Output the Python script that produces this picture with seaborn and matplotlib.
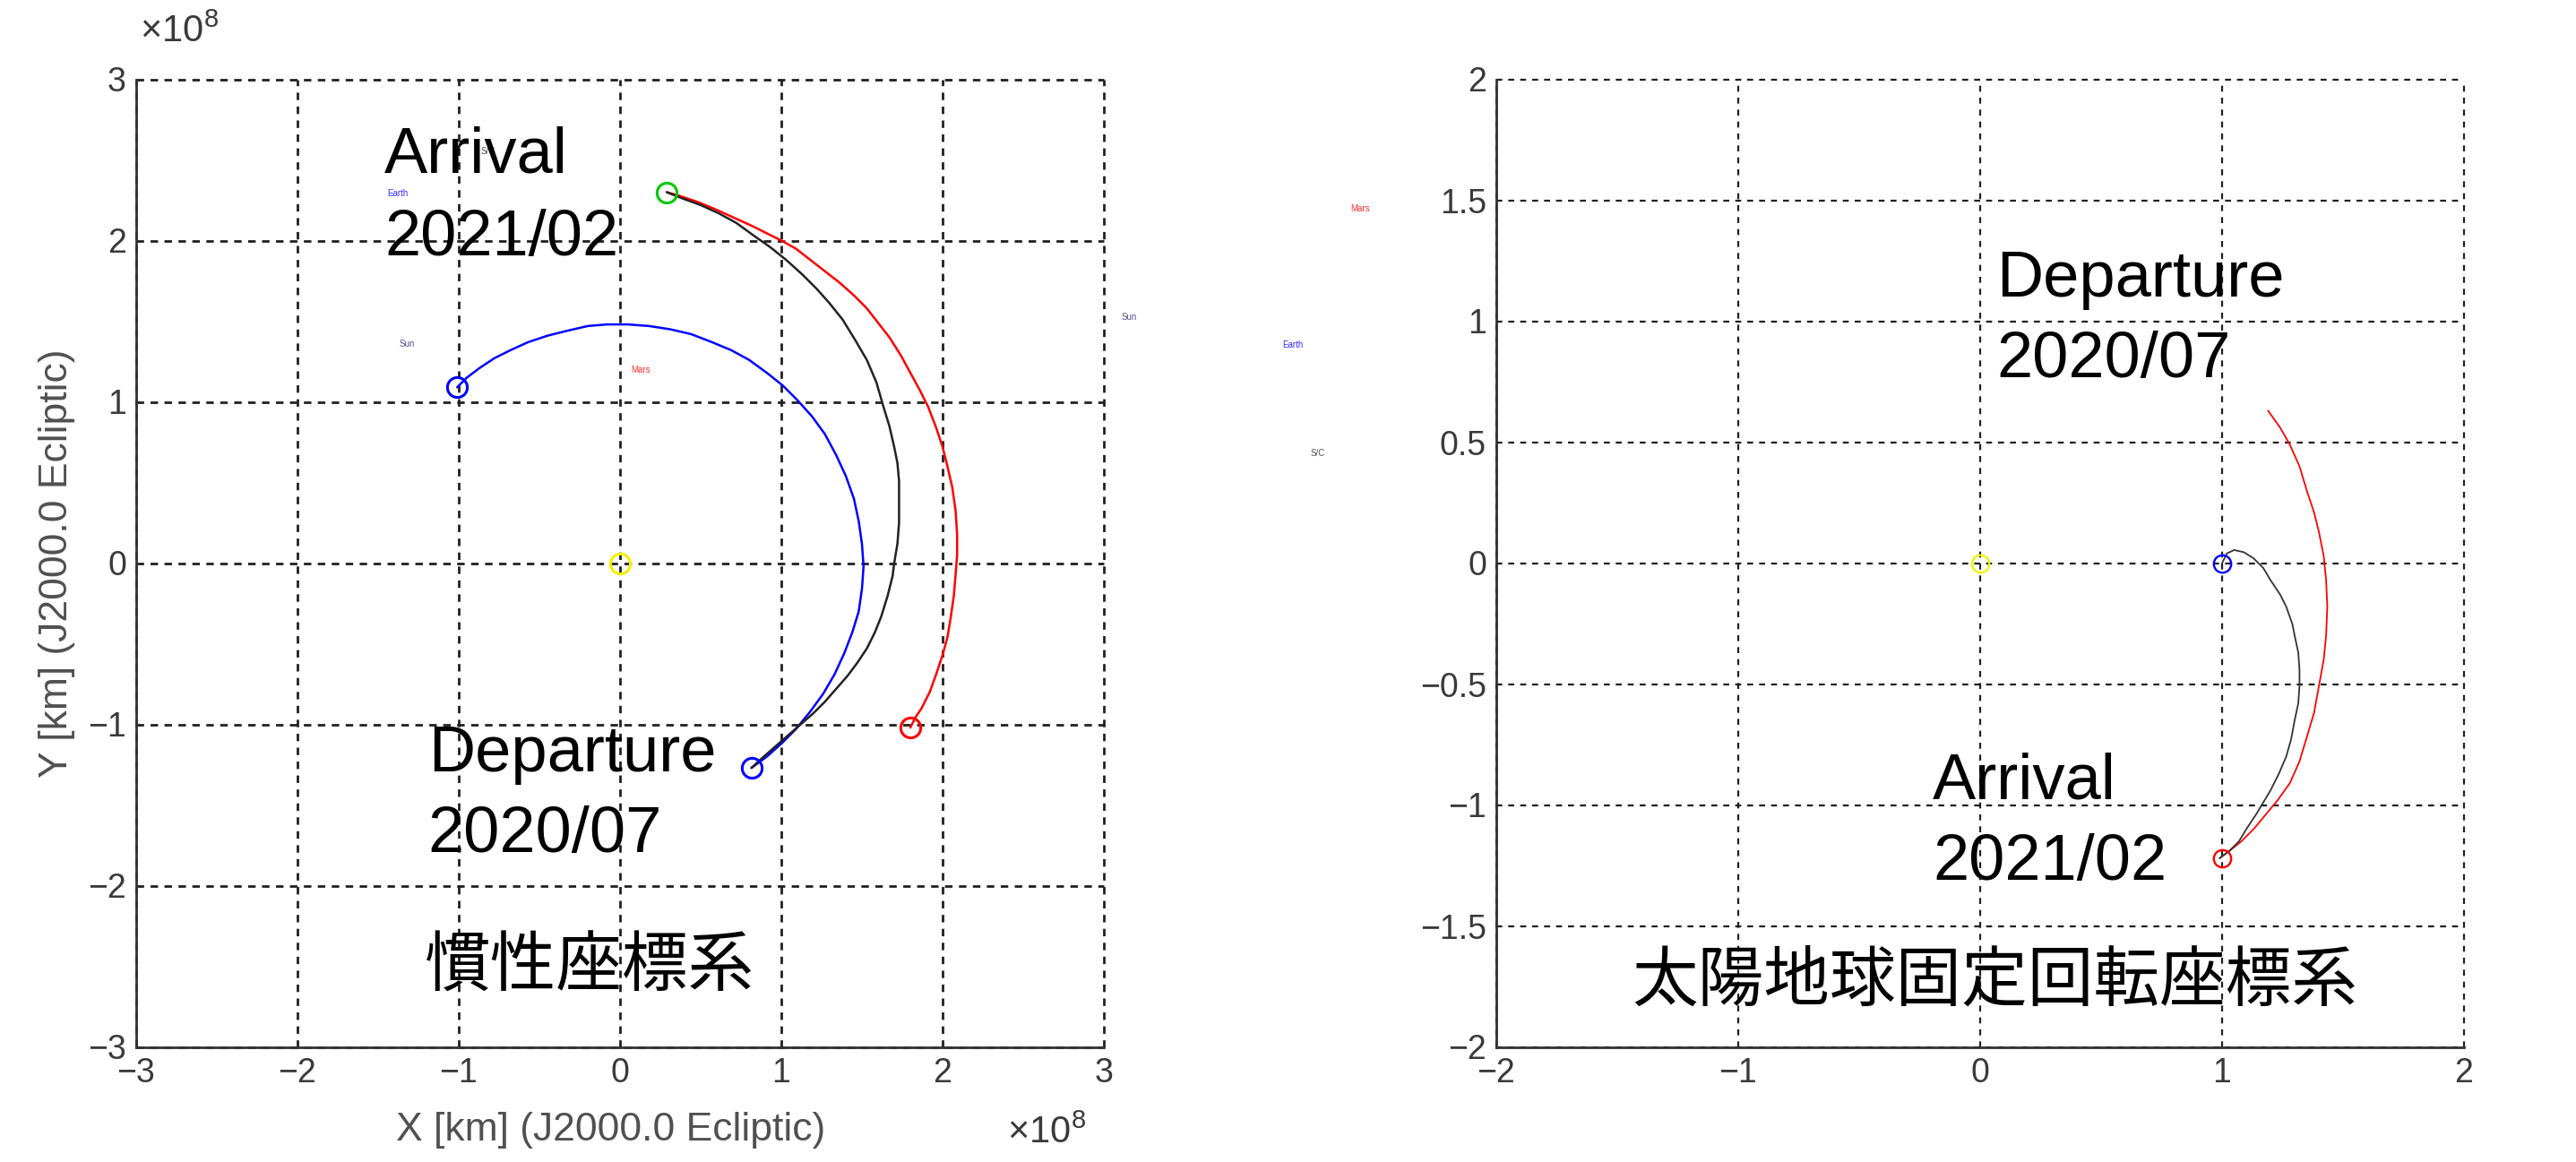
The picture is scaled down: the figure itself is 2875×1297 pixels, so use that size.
import matplotlib
matplotlib.use("Agg")
import matplotlib.pyplot as plt
from matplotlib import font_manager
import seaborn as sns

# ---- inertial frame (J2000.0 ecliptic), units of 1e8 km ----
earth_x = [-1.01, -0.95, -0.87, -0.78, -0.68, -0.57, -0.45, -0.33, -0.20, -0.08, 0.05, 0.18,
           0.31, 0.44, 0.57, 0.69, 0.80, 0.91, 1.01, 1.10, 1.19, 1.27, 1.34, 1.40, 1.45, 1.48,
           1.50, 1.51, 1.50, 1.48, 1.44, 1.39, 1.33, 1.26, 1.18, 1.09, 1.00, 0.91, 0.815]
earth_y = [1.09, 1.15, 1.21, 1.27, 1.32, 1.37, 1.41, 1.44, 1.47, 1.48, 1.48, 1.47,
           1.45, 1.42, 1.37, 1.32, 1.26, 1.18, 1.10, 1.01, 0.91, 0.80, 0.67, 0.54, 0.40, 0.26,
           0.12, -0.02, -0.16, -0.30, -0.43, -0.56, -0.69, -0.81, -0.92, -1.03, -1.12, -1.20, -1.27]

sc_x = [0.815, 0.88, 0.96, 1.04, 1.12, 1.20, 1.27, 1.34, 1.41, 1.47, 1.53, 1.58, 1.62, 1.66,
        1.69, 1.70, 1.72, 1.73, 1.73, 1.73, 1.72, 1.70, 1.67, 1.63, 1.59, 1.53, 1.46, 1.38,
        1.30, 1.22, 1.13, 1.03, 0.93, 0.83, 0.72, 0.61, 0.50, 0.39, 0.29]
sc_y = [-1.27, -1.21, -1.14, -1.07, -1.00, -0.93, -0.86, -0.78, -0.70, -0.62, -0.53, -0.43,
        -0.33, -0.20, -0.08, 0.00, 0.12, 0.25, 0.40, 0.51, 0.62, 0.72, 0.85, 0.98, 1.12, 1.26,
        1.38, 1.51, 1.61, 1.70, 1.79, 1.88, 1.96, 2.03, 2.11, 2.17, 2.22, 2.26, 2.30]

mars_x = [0.29, 0.36, 0.48, 0.60, 0.71, 0.82, 0.92, 1.00, 1.09, 1.18, 1.27, 1.36, 1.45, 1.53,
          1.60, 1.67, 1.74, 1.80, 1.86, 1.91, 1.96, 2.00, 2.03, 2.06, 2.08, 2.09, 2.09, 2.08,
          2.07, 2.05, 2.03, 2.00, 1.96, 1.92, 1.87, 1.83, 1.80]
mars_y = [2.30, 2.28, 2.24, 2.19, 2.14, 2.09, 2.04, 2.00, 1.95, 1.88, 1.81, 1.74, 1.66, 1.58,
          1.49, 1.40, 1.29, 1.18, 1.07, 0.97, 0.84, 0.72, 0.60, 0.47, 0.33, 0.18, 0.05, -0.08,
          -0.20, -0.34, -0.46, -0.57, -0.69, -0.80, -0.90, -0.96, -1.02]

# marker positions (x, y, colour)
inertial_marks = [(0.0, 0.0, "#f2f200"), (-1.01, 1.09, "#0000ff"), (0.815, -1.27, "#0000ff"),
                  (1.80, -1.02, "#ff0000"), (0.29, 2.30, "#00c800")]

# ---- Sun-Earth fixed rotating frame, units of AU ----
sc_rot_x = [1.00, 1.02, 1.05, 1.09, 1.13, 1.17, 1.20, 1.24, 1.265, 1.29, 1.30, 1.315, 1.32,
            1.32, 1.315, 1.30, 1.285, 1.265, 1.235, 1.20, 1.17, 1.14, 1.10, 1.07, 1.03, 0.99]
sc_rot_y = [0.00, 0.04, 0.054, 0.045, 0.02, -0.02, -0.07, -0.13, -0.18, -0.25, -0.30, -0.37, -0.44,
            -0.51, -0.58, -0.65, -0.73, -0.80, -0.87, -0.94, -0.99, -1.04, -1.10, -1.15, -1.19, -1.22]

mars_rot_x = [1.19, 1.24, 1.28, 1.32, 1.35, 1.38, 1.40, 1.42, 1.43, 1.435, 1.43, 1.42, 1.40,
              1.38, 1.35, 1.32, 1.28, 1.23, 1.18, 1.13, 1.08, 1.03, 0.99]
mars_rot_y = [0.63, 0.56, 0.49, 0.40, 0.30, 0.21, 0.13, 0.03, -0.07, -0.18, -0.30, -0.40, -0.51,
              -0.62, -0.72, -0.82, -0.91, -0.98, -1.04, -1.10, -1.15, -1.19, -1.22]

rotating_marks = [(0.0, 0.0, "#f2f200"), (1.0, 0.0, "#0000ff"), (1.0, -1.22, "#ff0000")]

inertial_ticks = [-3, -2, -1, 0, 1, 2, 3]
rot_xticks = [-2, -1, 0, 1, 2]
rot_yticks = [-2, -1.5, -1, -0.5, 0, 0.5, 1, 1.5, 2]

# tiny body labels: (text, x, y, colour)
inertial_names = [("Earth", -1.38, 2.29, "#3030ff"), ("Sun", -1.32, 1.36, "#505090"),
                  ("Mars", 0.13, 1.20, "#ff3030"), ("S/C", -0.82, 2.55, "#505050")]
stray_names = [("Mars", 1518, 233, "#ff3030"), ("Sun", 1260, 354, "#505090"),
               ("Earth", 1443, 385, "#3030ff"), ("S/C", 1471, 506, "#505050")]

sns.set_theme(style="white")
installed = {f.name for f in font_manager.fontManager.ttflist}
tick_font = "Liberation Sans Narrow" if "Liberation Sans Narrow" in installed else "Liberation Sans"
plt.rcParams["font.family"] = ["Liberation Sans", "Noto Sans CJK JP", "DejaVu Sans"]
plt.rcParams["mathtext.fontset"] = "custom"
plt.rcParams["mathtext.rm"] = tick_font
plt.rcParams["mathtext.default"] = "regular"

W, H = 2875, 1297
fig = plt.figure(figsize=(W / 100, H / 100), dpi=100)
ax1 = fig.add_axes([152 / W, 1 - 1168.5 / H, 1080 / W, 1080 / H])
ax2 = fig.add_axes([1670 / W, 1 - 1168.5 / H, 1080 / W, 1080 / H])


def style_axes(ax, xlim, ylim, xticks, yticks, grid_lw, dash):
    ax.set_xlim(*xlim)
    ax.set_ylim(*ylim)
    ax.set_xticks(xticks)
    ax.set_yticks(yticks)
    ax.set_yticklabels([f"{t:g}".replace("-", "\u2212") for t in yticks])
    ax.grid(True, color="#202020", linestyle=(0, dash), linewidth=grid_lw)
    ax.set_axisbelow(True)
    for s in ["top", "right"]:
        ax.spines[s].set_visible(False)
    for s in ["left", "bottom"]:
        ax.spines[s].set_color("#333333")
        ax.spines[s].set_linewidth(2)
    ax.tick_params(direction="in", length=10, width=1.5, color="#333333",
                   labelsize=27, labelcolor="#3a3a3a", pad=8,
                   labelfontfamily=tick_font)
    # grid lines on the edges should show in full, as in the original
    for gl in ax.get_xgridlines() + ax.get_ygridlines():
        gl.set_clip_on(False)


style_axes(ax1, (-3, 3), (-3, 3), inertial_ticks, inertial_ticks, 2.0, (3, 2.6))
style_axes(ax2, (-2, 2), (-2, 2), rot_xticks, rot_yticks, 1.6, (3, 3))


def ring(ax, x, y, c, ms, mew):
    sns.lineplot(x=[x], y=[y], marker="o", linestyle="none", markersize=ms,
                 markerfacecolor="none", markeredgecolor=c, markeredgewidth=mew,
                 color=c, estimator=None, ax=ax)


# inertial frame
for name, x, y, c in inertial_names:
    ax1.text(x, y, name, fontsize=7, color=c, ha="center", va="center", family=tick_font)
sns.lineplot(x=earth_x, y=earth_y, sort=False, estimator=None, color="#0000ff", linewidth=1.8, ax=ax1)
sns.lineplot(x=mars_x, y=mars_y, sort=False, estimator=None, color="#ff0000", linewidth=1.8, ax=ax1)
sns.lineplot(x=sc_x, y=sc_y, sort=False, estimator=None, color="#222222", linewidth=1.8, ax=ax1)
for x, y, c in inertial_marks:
    ring(ax1, x, y, c, 16, 2.2)

# rotating frame
sns.lineplot(x=mars_rot_x, y=mars_rot_y, sort=False, estimator=None, color="#ff0000", linewidth=1.3, ax=ax2)
sns.lineplot(x=sc_rot_x, y=sc_rot_y, sort=False, estimator=None, color="#333333", linewidth=1.3, ax=ax2)
for x, y, c in rotating_marks:
    ring(ax2, x, y, c, 14, 1.7)

big = dict(fontsize=52, color="black", ha="left", va="baseline", family="Liberation Sans")
ax1.text(-1.46, 2.42, "Arrival", **big)
ax1.text(-1.46, 1.91, "2021/02", **big)
ax1.text(-1.19, -1.29, "Departure", **big)
ax1.text(-1.19, -1.79, "2020/07", **big)
ax1.text(-1.21, -2.51, "慣性座標系", fontsize=53, color="black", ha="left", va="center",
         family=["Noto Sans CJK JP", "DejaVu Sans"])

ax2.text(0.067, 1.10, "Departure", **big)
ax2.text(0.067, 0.767, "2020/07", **big)
ax2.text(-0.196, -0.974, "Arrival", **big)
ax2.text(-0.196, -1.31, "2021/02", **big)
ax2.text(-1.44, -1.73, "太陽地球固定回転座標系", fontsize=53, color="black", ha="left", va="center",
         family=["Noto Sans CJK JP", "DejaVu Sans"])

for name, px, py, c in stray_names:
    fig.text(px / W, 1 - py / H, name, fontsize=7, color=c, ha="center", va="center", family=tick_font)

ax1.set_xlabel("X [km] (J2000.0 Ecliptic)", fontsize=32, color="#505050", family=tick_font)
ax1.set_ylabel("Y [km] (J2000.0 Ecliptic)", fontsize=32, color="#505050", family=tick_font)
ax1.xaxis.label.set_va("center")
ax1.yaxis.label.set_va("center")
ax1.xaxis.set_label_coords(0.49, (1168.5 - 1261) / 1080)
ax1.yaxis.set_label_coords((64 - 152) / 1080, 0.5)

fig.text(156 / W, 1 - 36 / H, "×10$^{8}$", fontsize=30, color="#3a3a3a", ha="left", va="center", family=tick_font)
fig.text(1212 / W, 1 - 1265 / H, "×10$^{8}$", fontsize=30, color="#3a3a3a", ha="right", va="center", family=tick_font)

fig.savefig("out.png", dpi=100, facecolor="white")
